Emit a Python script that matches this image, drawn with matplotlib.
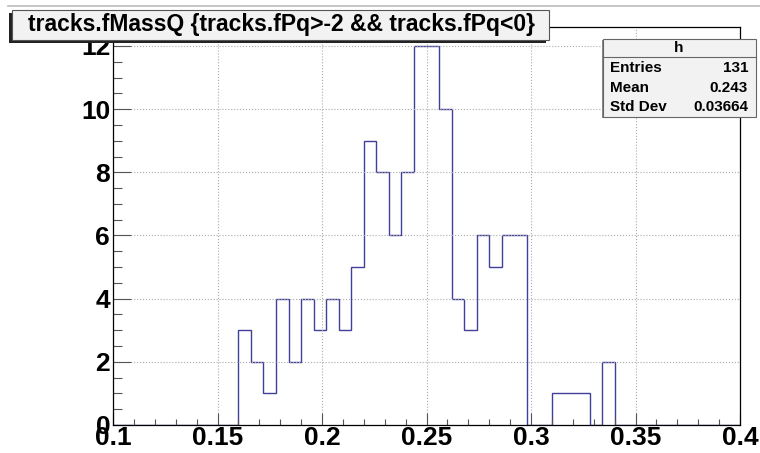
import numpy as np
import matplotlib
matplotlib.use("Agg")
import matplotlib.pyplot as plt
from matplotlib.patches import Rectangle
from matplotlib.ticker import MultipleLocator

# histogram: 50 bins between 0.1 and 0.4
x_lo, x_hi, n_bins = 0.1, 0.4, 50
counts = [0, 0, 0, 0, 0, 0, 0, 0, 0, 0,
          3, 2, 1, 4, 2, 4, 3, 4, 3, 5,
          9, 8, 6, 8, 12, 12, 10, 4, 3, 6,
          5, 6, 6, 0, 0, 1, 1, 1, 0, 2,
          0, 0, 0, 0, 0, 0, 0, 0, 0, 0]
title = "tracks.fMassQ {tracks.fPq>-2 && tracks.fPq<0}"
stat_names = ["Entries", "Mean", "Std Dev"]
stat_values = ["131", "0.243", "0.03664"]

W, H = 760, 453
plt.rcParams['font.family'] = ['Liberation Sans', 'DejaVu Sans']
fig = plt.figure(figsize=(W / 100, H / 100), dpi=100)

def fx(px):
    return px / W

def fy(py):
    return 1 - py / H

ax = fig.add_axes([fx(113), fy(425), fx(740) - fx(113), fy(27) - fy(425)])
edges = np.linspace(x_lo, x_hi, n_bins + 1)
ax.stairs(counts, edges, color='#40409a', lw=1.0, baseline=0)
ax.set_xlim(x_lo, x_hi)
ax.set_ylim(0, 12.6)

ax.xaxis.set_major_locator(MultipleLocator(0.05))
ax.xaxis.set_minor_locator(MultipleLocator(0.01))
ax.yaxis.set_major_locator(MultipleLocator(2))
ax.yaxis.set_minor_locator(MultipleLocator(0.5))
ax.xaxis.set_major_formatter(matplotlib.ticker.FuncFormatter(lambda v, p: f"{v:g}"))
ax.tick_params(axis='x', which='major', direction='in', length=9, width=0.8,
               color='#555555', labelsize=19, pad=1)
ax.tick_params(axis='x', which='minor', direction='in', length=4.5, width=0.8, color='#555555')
ax.tick_params(axis='y', which='major', direction='in', length=13, width=0.8,
               color='#555555', labelsize=19, pad=2)
ax.tick_params(axis='y', which='minor', direction='in', length=6.5, width=0.8, color='#555555')
for lab in ax.get_xticklabels() + ax.get_yticklabels():
    lab.set_fontweight('bold')
ax.grid(True, which='major', color='#aaaaaa', ls=':', lw=0.8)
for s in ax.spines.values():
    s.set_color('black')
    s.set_linewidth(0.9)

# thin line at top of canvas
fig.add_artist(plt.Line2D([fx(8), 1], [fy(6), fy(6)], color='#bbbbbb', lw=1.2))

# title box with shadow
fig.add_artist(Rectangle((fx(9), fy(43)), fx(537), 30 / H, facecolor='#222222',
                         edgecolor='none', transform=fig.transFigure))
fig.add_artist(Rectangle((fx(12), fy(40)), fx(537), 30 / H, facecolor='#f2f2f2',
                         edgecolor='#555555', lw=0.8, transform=fig.transFigure))
fig.text(fx(281), fy(25), title, ha='center', va='center', fontsize=16.5,
         fontweight='bold')

# stats box
fig.add_artist(Rectangle((fx(602), fy(118)), fx(153), 78 / H, facecolor='#888888',
                         edgecolor='none', transform=fig.transFigure))
fig.add_artist(Rectangle((fx(603), fy(117)), fx(153), 78 / H, facecolor='#f2f2f2',
                         edgecolor='#666666', lw=0.8, transform=fig.transFigure))
fig.add_artist(plt.Line2D([fx(603), fx(756)], [fy(57), fy(57)], color='#666666', lw=0.8))
fig.text(fx(679), fy(48), "h", ha='center', va='center', fontsize=11, fontweight='bold')
for i, (n, v) in enumerate(zip(stat_names, stat_values)):
    yy = fy(68 + i * 19.5)
    fig.text(fx(610), yy, n, ha='left', va='center', fontsize=11, fontweight='bold')
    fig.text(fx(748), yy, v, ha='right', va='center', fontsize=11, fontweight='bold')

fig.savefig("out.png", dpi=100)
